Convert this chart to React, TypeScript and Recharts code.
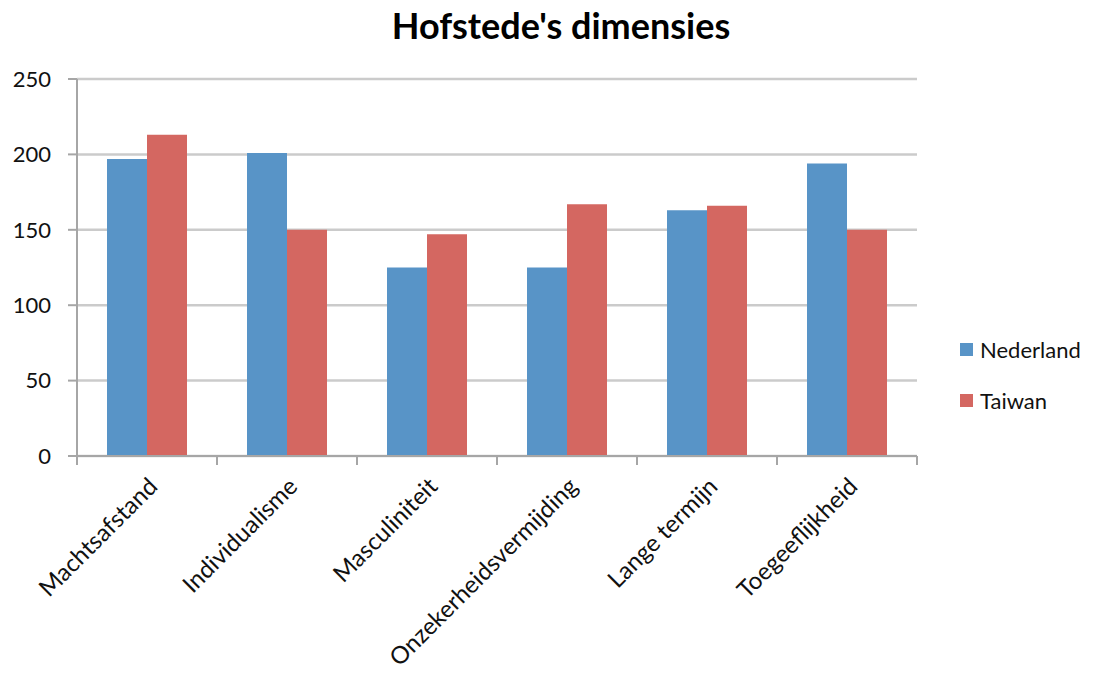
import React from 'react';
import { BarChart, Bar, XAxis, YAxis, CartesianGrid } from 'recharts';

const categories = [
  'Machtsafstand',
  'Individualisme',
  'Masculiniteit',
  'Onzekerheidsvermijding',
  'Lange termijn',
  'Toegeeflijkheid',
];
const nederland = [197, 201, 125, 125, 163, 194];
const taiwan = [213, 150, 147, 167, 166, 150];
const yTicks = [0, 50, 100, 150, 200, 250];

const data = categories.map((name, i) => ({ name, Nederland: nederland[i], Taiwan: taiwan[i] }));

const FONT = 'Lato, "Open Sans", sans-serif';
const BLUE = '#5894C7';
const RED = '#D46761';
const AXIS = '#A6A6A6';

const CategoryTick = ({ x, y, payload, index }: any) => {
  const half = 70;
  return (
    <g>
      <line x1={x - half} y1={y - 8} x2={x - half} y2={y + 1} stroke={AXIS} strokeWidth={2} />
      {index === categories.length - 1 && (
        <line x1={x + half} y1={y - 8} x2={x + half} y2={y + 1} stroke={AXIS} strokeWidth={2} />
      )}
      <text
        x={x + 12}
        y={y + 24}
        textAnchor="end"
        transform={`rotate(-45, ${x + 12}, ${y + 24})`}
        fontFamily={FONT}
        fontSize={24}
        fill="#111"
      >
        {payload.value}
      </text>
    </g>
  );
};

const legendItems = [
  { label: 'Nederland', color: BLUE },
  { label: 'Taiwan', color: RED },
];

export default function App() {
  return (
    <div style={{ position: 'absolute', left: 0, top: 0, width: 1097, height: 677, background: '#fff' }}>
      <div
        style={{
          position: 'absolute',
          left: 0,
          width: 1122,
          top: 3,
          textAlign: 'center',
          fontFamily: FONT,
          fontWeight: 700,
          fontSize: 36,
          color: '#000',
        }}
      >
        Hofstede's dimensies
      </div>
      <div style={{ position: 'absolute', left: 960, top: 336, fontFamily: FONT, fontSize: 22, color: '#111' }}>
        {legendItems.map((it, i) => (
          <div key={it.label} style={{ display: 'flex', alignItems: 'center', marginBottom: i === 0 ? 24 : 0 }}>
            <span style={{ width: 13, height: 13, background: it.color, display: 'inline-block', marginRight: 7 }} />
            <span>{it.label}</span>
          </div>
        ))}
      </div>
      <BarChart
        width={1097}
        height={677}
        data={data}
        margin={{ top: 79, right: 180, bottom: 0, left: 0 }}
        barGap={0}
        barCategoryGap={30}
      >
        <CartesianGrid vertical={false} stroke="#CBCBCB" strokeWidth={2.5} />
        <XAxis
          dataKey="name"
          height={221}
          interval={0}
          axisLine={{ stroke: AXIS, strokeWidth: 2 }}
          tickLine={false}
          tick={<CategoryTick />}
        />
        <YAxis
          width={77}
          domain={[0, 250]}
          ticks={yTicks}
          interval={0}
          axisLine={{ stroke: AXIS, strokeWidth: 2 }}
          tickLine={{ stroke: AXIS, strokeWidth: 2 }}
          tickSize={9}
          tickMargin={17}
          tick={{ fill: '#111', fontSize: 22, fontFamily: FONT }}
        />
        <Bar dataKey="Nederland" fill={BLUE} isAnimationActive={false} />
        <Bar dataKey="Taiwan" fill={RED} isAnimationActive={false} />
      </BarChart>
    </div>
  );
}
